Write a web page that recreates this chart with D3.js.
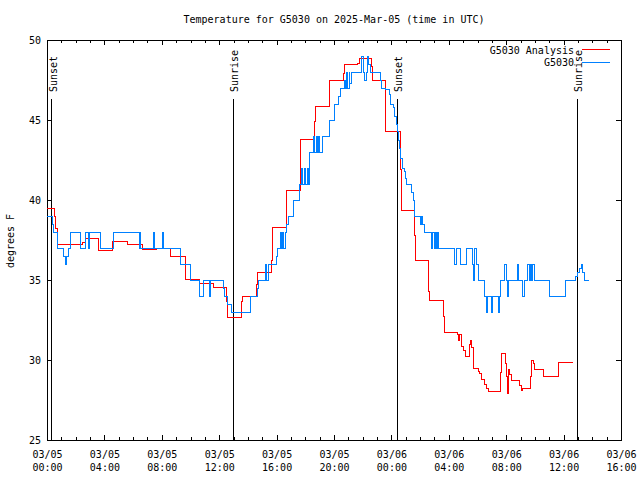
<!DOCTYPE html>
<html><head><meta charset="utf-8">
<script src="https://cdn.jsdelivr.net/npm/d3@7"></script>
<style>body{margin:0;background:#fff}</style>
</head><body>
<svg id="chart" width="640" height="480" xmlns="http://www.w3.org/2000/svg"></svg>
<script>
// ---------- data ----------
const chartTitle = "Temperature for G5030 on 2025-Mar-05 (time in UTC)";
const yLabel = "degrees F";
const seriesNames = ["G5030 Analysis", "G5030"];
const seriesColors = ["#ff0000", "#0080ff"];
const yTicks = [25, 30, 35, 40, 45, 50];
const startUTC = Date.UTC(2025, 2, 5, 0, 0);   // 03/05 00:00 UTC
const spanHours = 40;                            // to 03/06 16:00
const sunLabels = ["Sunset", "Sunrise", "Sunset", "Sunrise"];
const sunHours = [0.33, 12.98, 24.41, 36.95];

// hours after 03/05 00:00 UTC, step series
const analysisHours = [0,0.51,0.61,0.70,2.49,2.65,3.62,4.58,5.62,6.64,7.64,8.62,9.67,10.61,11.59,12.49,12.59,13.57,13.64,14.61,14.68,15.61,15.70,16.66,16.70,17.65,17.70,18.63,18.68,19.67,19.72,20.65,20.72,21.65,21.76,22.63,22.67,23.62,24.60,24.67,25.60,25.65,26.57,26.60,26.64,27.62,27.67,28.62,28.66,28.78,28.90,29.01,29.13,29.43,29.50,29.55,29.71,30.06,30.15,30.29,30.52,30.64,30.75,31.57,31.66,31.94,32.01,32.06,32.13,32.25,32.38,32.96,33.05,33.12,33.68,33.75,33.87,33.96,34.63,35.63,36.63];
const analysisTemps = [39.5,39.0,38.2,37.2,37.35,37.6,36.85,37.4,37.2,36.9,36.95,36.5,35.05,34.8,34.55,33.65,32.67,33.65,33.96,34.69,35.48,36.25,38.29,39.48,40.58,43.0,43.79,44.9,45.83,46.67,47.5,47.92,48.48,48.54,48.85,48.33,47.44,44.27,41.9,39.375,37.8,36.19,35.52,34.31,33.69,32.71,31.73,31.6,31.25,31.6,30.83,30.6,30.25,30.94,31.19,30.8,29.48,29.3,29.17,28.81,28.44,28.23,28.06,29.2,30.4,29.8,29.0,27.9,29.4,29.1,28.75,28.4,28.1,28.25,29.0,30.0,29.8,29.4,29.0,29.85,29.85];

const obsHours = [0,0.37,0.44,0.72,1.18,1.30,1.37,1.48,1.67,2.30,2.70,2.86,2.93,3.76,4.62,6.43,6.50,6.55,7.41,7.48,8.03,8.10,9.27,9.97,10.61,10.94,11.31,11.38,12.29,12.36,12.59,12.87,14.18,14.66,14.72,15.26,15.33,15.42,15.96,16.05,16.24,16.31,16.43,16.50,16.59,16.66,16.82,17.16,17.63,17.75,17.82,17.96,18.03,18.12,18.19,18.28,18.56,18.63,18.75,18.82,18.93,19.00,19.21,19.72,20.02,20.30,20.42,20.70,20.77,20.89,20.95,21.05,21.11,21.23,21.93,22.07,22.16,22.25,22.32,22.39,22.56,23.21,23.32,23.62,23.85,23.95,24.13,24.25,24.37,24.44,24.48,24.55,24.65,24.76,24.90,25.00,25.07,25.42,25.53,25.60,25.64,26.04,26.11,26.18,26.29,26.81,26.88,26.97,27.04,27.13,27.18,27.27,28.43,28.55,28.83,29.25,29.64,29.71,29.78,29.90,30.06,30.52,30.62,30.68,31.01,31.08,31.43,31.50,31.60,31.85,32.01,32.08,32.15,32.82,32.89,33.15,33.26,33.47,33.61,33.71,33.78,33.85,33.96,35.02,36.15,36.80,36.97,37.11,37.26,37.35,37.44,37.75];
const obsTemps = [39,38.5,38,37,36.5,36,36.5,37,38,37,38,37,38,37,38,37,38,37,38,37,38,37,36,35,34,35,34,35,34.5,34,33.5,33,34,34.5,35,36,35,36,36.5,37,38,37,38,37,38,38.5,39,40,41,42,41,42,41,42,41,43,44,43,44,43,44,43,44,45,46,46.5,47,47.5,47,48,47,48,47.3,48,49,48,47.5,48,49,48.5,48,47.5,47,46.9,46.6,46,45.8,45.2,44.7,44.3,43.75,43.2,42.6,42,41.8,41.35,41,40.5,40,39.5,39,38.5,39,38.5,38,37,38,37,38,37,38,37,36,37,36,37,36,35,37,36,35,34,33,34,33,34,33,34,35,36,35,34,35,36,35,34,35,36,35,36,35,36,35,34,35,35.25,35.5,35.75,36,35.5,35,35];

// ---------- layout ----------
const W = 640, H = 480;
const mLeft = 47, mRight = 621, mTop = 40, mBottom = 440;
const font = "'DejaVu Sans Mono', 'Liberation Mono', monospace";
const toDate = h => new Date(startUTC + h * 3600000);

const svg = d3.select("#chart");
svg.append("rect").attr("width", W).attr("height", H).attr("fill", "#fff");

const x = d3.scaleUtc().domain([toDate(0), toDate(spanHours)]).range([mLeft, mRight]);
const y = d3.scaleLinear().domain([25, 50]).range([mBottom, mTop]);

const fmtDay = d3.utcFormat("%m/%d");
const fmtTime = d3.utcFormat("%H:%M");

function styleAxis(g) {
  g.attr("font-family", font).attr("font-size", 10);
  g.select(".domain").remove();
  g.selectAll("line").attr("shape-rendering", "crispEdges");
}

// minor x ticks (bottom & top)
svg.append("g").attr("transform", `translate(0,${mBottom})`)
  .call(d3.axisBottom(x).ticks(d3.utcHour.every(1)).tickSizeInner(-3).tickSizeOuter(0).tickFormat(() => ""))
  .call(styleAxis);
svg.append("g").attr("transform", `translate(0,${mTop})`)
  .call(d3.axisTop(x).ticks(d3.utcHour.every(1)).tickSizeInner(-3).tickSizeOuter(0).tickFormat(() => ""))
  .call(styleAxis);
// major x ticks
const gx = svg.append("g").attr("transform", `translate(0,${mBottom})`)
  .call(d3.axisBottom(x).ticks(d3.utcHour.every(4)).tickSizeInner(-5).tickSizeOuter(0).tickFormat(fmtDay))
  .call(styleAxis);
gx.selectAll(".tick text").each(function (d) {
  const t = d3.select(this);
  t.attr("dy", null).text(null).attr("fill", "#000");
  t.append("tspan").attr("x", 0).attr("y", 17.5).text(fmtDay(d));
  t.append("tspan").attr("x", 0).attr("y", 31).text(fmtTime(d));
});
svg.append("g").attr("transform", `translate(0,${mTop})`)
  .call(d3.axisTop(x).ticks(d3.utcHour.every(4)).tickSizeInner(-5).tickSizeOuter(0).tickFormat(() => ""))
  .call(styleAxis);

// y axes
svg.append("g").attr("transform", `translate(${mLeft},0)`)
  .call(d3.axisLeft(y).tickValues(yTicks).tickSizeInner(-5).tickSizeOuter(0).tickPadding(6))
  .call(styleAxis)
  .selectAll("text").attr("fill", "#000");
svg.append("g").attr("transform", `translate(${mRight},0)`)
  .call(d3.axisRight(y).tickValues(yTicks).tickSizeInner(-5).tickSizeOuter(0).tickFormat(() => ""))
  .call(styleAxis);

// frame
svg.append("rect").attr("x", mLeft).attr("y", mTop).attr("width", mRight - mLeft).attr("height", mBottom - mTop)
  .attr("fill", "none").attr("stroke", "#000").attr("shape-rendering", "crispEdges");

// sunrise / sunset markers
sunHours.forEach((h, i) => {
  const xx = x(toDate(h));
  svg.append("line").attr("x1", xx).attr("x2", xx).attr("y1", 99).attr("y2", mBottom)
    .attr("stroke", "#000").attr("shape-rendering", "crispEdges");
  svg.append("text").attr("transform", `translate(${xx + 5},92) rotate(-90)`)
    .attr("text-anchor", "start").attr("font-family", font).attr("font-size", 10)
    .text(sunLabels[i]);
});

// series
const line = d3.line().x(d => x(d.date)).y(d => y(d.v)).curve(d3.curveStepAfter);
const analysis = analysisHours.map((h, i) => ({ date: toDate(h), v: analysisTemps[i] }));
const obs = obsHours.map((h, i) => ({ date: toDate(h), v: obsTemps[i] }));
[analysis, obs].forEach((s, i) => {
  svg.append("path").datum(s).attr("d", line).attr("fill", "none")
    .attr("stroke", seriesColors[i]).attr("stroke-width", 1).attr("shape-rendering", "crispEdges");
});

// legend
seriesNames.forEach((n, i) => {
  const yy = 49.5 + i * 12.5;
  svg.append("text").attr("x", 574).attr("y", yy + 4).attr("text-anchor", "end")
    .attr("font-family", font).attr("font-size", 10).text(n);
  svg.append("line").attr("x1", 582).attr("x2", 610).attr("y1", yy).attr("y2", yy)
    .attr("stroke", seriesColors[i]).attr("shape-rendering", "crispEdges");
});

// title & y label
svg.append("text").attr("x", 334).attr("y", 23).attr("text-anchor", "middle")
  .attr("font-family", font).attr("font-size", 10).text(chartTitle);
svg.append("text").attr("transform", "translate(14,241) rotate(-90)").attr("text-anchor", "middle")
  .attr("font-family", font).attr("font-size", 10).text(yLabel);
</script>
</body></html>
